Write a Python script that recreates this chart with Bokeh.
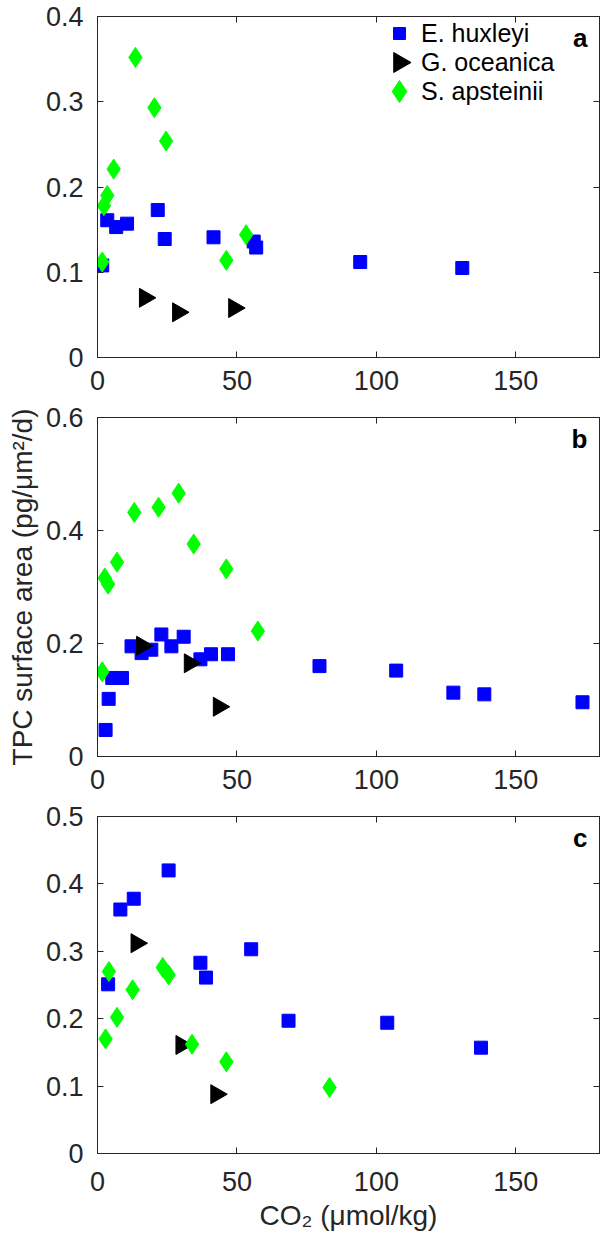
import math
from bokeh.plotting import figure
from bokeh.layouts import column
from bokeh.models import (Range1d, FixedTicker, CustomJSTickFormatter, LinearAxis,
                          Legend, LegendItem, Label, CustomLabelingPolicy)
from bokeh.embed import file_html
from bokeh.resources import INLINE

# ---------------- data ----------------
species = ["E. huxleyi", "G. oceanica", "S. apsteinii"]

# panel a
a_ehux_x = [1.7, 3.5, 6.7, 10.6, 21.6, 24.1, 41.6, 56.0, 56.9, 94.2, 130.8]
a_ehux_y = [0.108, 0.161, 0.153, 0.157, 0.173, 0.139, 0.141, 0.136, 0.129, 0.112, 0.105]
a_gocn_x = [17.0, 28.9, 49.0]
a_gocn_y = [0.070, 0.053, 0.058]
a_saps_x = [1.7, 2.3, 3.5, 5.8, 13.6, 20.4, 24.6, 46.2, 53.3]
a_saps_y = [0.112, 0.178, 0.190, 0.221, 0.352, 0.293, 0.254, 0.114, 0.144]

# panel b
b_ehux_x = [2.9, 4.0, 5.3, 8.8, 12.2, 15.8, 19.3, 22.9, 26.5, 30.9, 36.9, 40.7, 46.8,
            79.6, 107.1, 127.6, 138.7, 173.9]
b_ehux_y = [0.047, 0.102, 0.139, 0.139, 0.195, 0.183, 0.189, 0.216, 0.195, 0.212, 0.172, 0.181, 0.181,
            0.160, 0.152, 0.113, 0.110, 0.096]
b_gocn_x = [16.0, 33.1, 43.5]
b_gocn_y = [0.196, 0.165, 0.088]
b_saps_x = [1.7, 2.6, 3.8, 7.0, 13.2, 21.9, 29.1, 34.5, 46.2, 57.5]
b_saps_y = [0.150, 0.316, 0.305, 0.344, 0.432, 0.441, 0.466, 0.376, 0.332, 0.222]

# panel c
c_ehux_x = [3.8, 8.2, 13.0, 25.5, 36.9, 38.9, 55.1, 68.5, 103.9, 137.5]
c_ehux_y = [0.251, 0.362, 0.378, 0.420, 0.283, 0.261, 0.303, 0.197, 0.194, 0.157]
c_gocn_x = [14.0, 30.1, 42.6]
c_gocn_y = [0.312, 0.161, 0.088]
c_saps_x = [2.9, 4.1, 7.0, 12.6, 23.4, 25.5, 33.9, 46.2, 83.2]
c_saps_y = [0.170, 0.270, 0.202, 0.243, 0.276, 0.265, 0.162, 0.136, 0.098]

x_ticks = [0, 50, 100, 150]
a_yticks = [0, 0.1, 0.2, 0.3, 0.4]
b_yticks = [0, 0.2, 0.4, 0.6]
c_yticks = [0, 0.1, 0.2, 0.3, 0.4, 0.5]
panel_letters = ["a", "b", "c"]

x_label = "CO\u2082 (\u03bcmol/kg)"
y_label = "TPC surface area (pg/\u03bcm\u00b2/d)"

# ---------------- style ----------------
FONT = "Liberation Sans"
AX = "#262626"
TICK_FS = "27px"
BLUE = "#0000ff"
BLACK = "#000000"
GREEN = "#00ff00"
SQ_SIZE = 13
TRI_SIZE = 19
DIA_SIZE = 20
LEG_SIZES = [12, 20, 22]

FIG_W = 600
BORDER_L = 97
BORDER_R = 1
FRAME_W = FIG_W - BORDER_L - BORDER_R
XMAX = 180


def style_axis(ax, ticks, standoff, show_labels=True):
    ax.ticker = FixedTicker(ticks=ticks)
    ax.formatter = CustomJSTickFormatter(code="return String(Math.round(tick*10)/10);")
    ax.major_tick_in = 6
    ax.major_tick_out = 0
    ax.minor_tick_in = 0
    ax.minor_tick_out = 0
    ax.axis_line_color = AX
    ax.axis_line_width = 1
    ax.major_tick_line_color = AX
    ax.major_label_text_font = FONT
    ax.major_label_text_color = AX
    ax.axis_label_text_font = FONT
    ax.axis_label_text_color = AX
    ax.axis_label_text_font_style = "normal"
    if show_labels:
        ax.major_label_text_font_size = TICK_FS
        ax.major_label_standoff = standoff
    else:
        ax.major_label_text_font_size = "0px"
        ax.major_label_standoff = 0
        ax.major_label_policy = CustomLabelingPolicy(code="return []")


def make_fig(height, ymax, yticks, top_b, bot_b, letter, xstand):
    p = figure(width=FIG_W, height=height, x_range=Range1d(0, XMAX), y_range=Range1d(0, ymax),
               output_backend="svg", toolbar_location=None, title=None,
               min_border_left=BORDER_L, min_border_right=BORDER_R,
               min_border_top=top_b, min_border_bottom=bot_b)
    p.grid.visible = False
    p.outline_line_color = AX
    p.outline_line_width = 1
    p.background_fill_color = "white"
    p.border_fill_color = "white"
    style_axis(p.below[0], x_ticks, xstand)
    style_axis(p.left[0], yticks, 14)
    ra = LinearAxis()
    style_axis(ra, yticks, 0, show_labels=False)
    p.add_layout(ra, "right")
    ta = LinearAxis()
    style_axis(ta, x_ticks, 0, show_labels=False)
    p.add_layout(ta, "above")
    p.add_layout(Label(x=XMAX, y=ymax, x_offset=-12, y_offset=-21, text=letter,
                       text_align="right", text_baseline="alphabetic",
                       text_font=FONT, text_font_style="bold", text_font_size="26px",
                       text_color=BLACK))
    return p


def add_points(p, ex, ey, gx, gy, sx, sy):
    p.scatter(ex, ey, marker="square", size=SQ_SIZE, fill_color=BLUE, line_color=BLUE)
    p.scatter(gx, gy, marker="triangle", size=TRI_SIZE, angle=-math.pi / 2,
              fill_color=BLACK, line_color=BLACK)
    p.scatter(sx, sy, marker="diamond", size=DIA_SIZE, fill_color=GREEN, line_color=GREEN)


# ---------------- panel a ----------------
A_H, A_TOP, A_BOT = 402, 16, 45
A_FRAME_H = A_H - A_TOP - A_BOT
pa = make_fig(A_H, 0.4, a_yticks, A_TOP, A_BOT, panel_letters[0], 13)
add_points(pa, a_ehux_x, a_ehux_y, a_gocn_x, a_gocn_y, a_saps_x, a_saps_y)

# legend: text entries via Legend, swatches drawn at the legend rows
LEG_GLYPH_W = 30
LEG_ROW_H = 29
LEG_X = 287          # px from frame left
LEG_TOP = 2.5        # px below frame top
leg_bottom = A_FRAME_H - LEG_TOP - 3 * LEG_ROW_H
dummies = [pa.scatter([], [], marker="square", fill_alpha=0, line_alpha=0) for _ in species]
legend = Legend(items=[LegendItem(label=s, renderers=[d]) for s, d in zip(species, dummies)],
                location=(LEG_X, leg_bottom), orientation="vertical",
                glyph_width=LEG_GLYPH_W, glyph_height=LEG_ROW_H, label_height=LEG_ROW_H,
                label_standoff=7, spacing=0, padding=0, margin=0,
                label_text_font=FONT, label_text_font_size="25px", label_text_color=BLACK,
                label_text_baseline="middle",
                border_line_color=None, background_fill_alpha=0)
pa.add_layout(legend)
sw_x = (LEG_X + LEG_GLYPH_W / 2) / FRAME_W * XMAX
sw_y = [(A_FRAME_H - LEG_TOP - LEG_ROW_H * (i + 0.5)) / A_FRAME_H * 0.4 for i in range(3)]
pa.scatter([sw_x], [sw_y[0]], marker="square", size=LEG_SIZES[0], fill_color=BLUE, line_color=BLUE)
pa.scatter([sw_x], [sw_y[1]], marker="triangle", size=LEG_SIZES[1], angle=-math.pi / 2,
           fill_color=BLACK, line_color=BLACK)
pa.scatter([sw_x], [sw_y[2]], marker="diamond", size=LEG_SIZES[2], fill_color=GREEN, line_color=GREEN)

# ---------------- panel b ----------------
pb = make_fig(400, 0.6, b_yticks, 15, 46, panel_letters[1], 13)
add_points(pb, b_ehux_x, b_ehux_y, b_gocn_x, b_gocn_y, b_saps_x, b_saps_y)
pb.left[0].axis_label = y_label
pb.left[0].axis_label_text_font_size = "28px"
pb.left[0].axis_label_standoff = 5

# ---------------- panel c ----------------
pc = make_fig(447, 0.5, c_yticks, 14, 96, panel_letters[2], 18)
add_points(pc, c_ehux_x, c_ehux_y, c_gocn_x, c_gocn_y, c_saps_x, c_saps_y)
pc.below[0].axis_label = x_label
pc.below[0].axis_label_text_font_size = "28px"
pc.below[0].axis_label_standoff = 6

layout = column(pa, pb, pc, spacing=0)
open("out.html", "w").write(file_html(layout, INLINE))
